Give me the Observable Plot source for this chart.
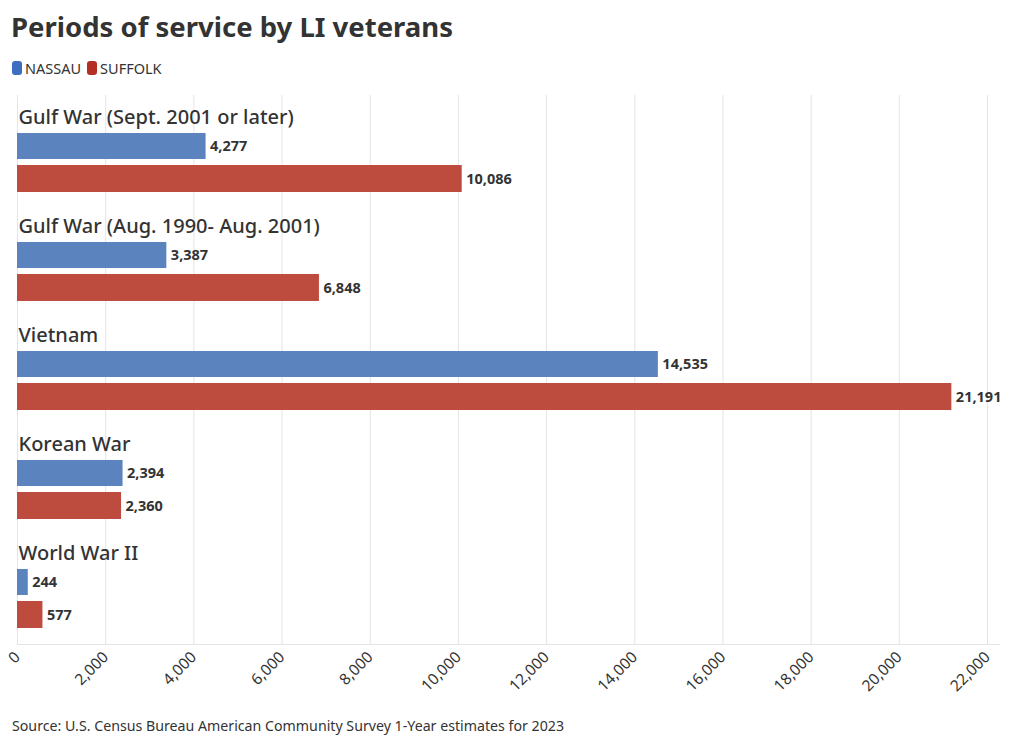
<!DOCTYPE html>
<html>
<head>
<meta charset="utf-8">
<script src="https://cdn.jsdelivr.net/npm/d3@7"></script>
<script src="https://cdn.jsdelivr.net/npm/@observablehq/plot@0.6"></script>
<style>
  html, body { margin: 0; padding: 0; background: #fff; }
  body { width: 1020px; height: 746px; position: relative; font-family: "Noto Sans", sans-serif; color: #333; overflow: hidden; }
  #title { position: absolute; left: 11px; top: 7px; font-size: 27.5px; font-weight: 700; line-height: 40px; color: #333; white-space: nowrap; }
  #legend { position: absolute; left: 12px; top: 59px; font-size: 14.5px; line-height: 18px; display: flex; align-items: center; color: #333; }
  .sw { display: inline-block; width: 10px; height: 14px; border-radius: 3px; margin-right: 3px; }
  .item { display: flex; align-items: center; margin-right: 6px; }
  #chart { position: absolute; left: 0; top: 80px; }
  #caption { position: absolute; left: 12px; top: 715px; font-size: 14.2px; line-height: 22px; color: #333; white-space: nowrap; }
</style>
</head>
<body>
<div id="title">Periods of service by LI veterans</div>
<div id="legend"></div>
<div id="chart"></div>
<div id="caption">Source: U.S. Census Bureau American Community Survey 1-Year estimates for 2023</div>
<script>
const categories = [
  "Gulf War (Sept. 2001 or later)",
  "Gulf War (Aug. 1990- Aug. 2001)",
  "Vietnam",
  "Korean War",
  "World War II"
];
const nassau = [4277, 3387, 14535, 2394, 244];
const suffolk = [10086, 6848, 21191, 2360, 577];
const counties = ["NASSAU", "SUFFOLK"];
const legendColors = ["#3d6dbf", "#b42f22"];
const barColors = ["#5b83bd", "#be4c3e"];
const xTicks = [0, 2000, 4000, 6000, 8000, 10000, 12000, 14000, 16000, 18000, 20000, 22000];

const nassauRows = categories.map((c, i) => ({category: c, value: nassau[i]}));
const suffolkRows = categories.map((c, i) => ({category: c, value: suffolk[i]}));

// legend
const legend = document.getElementById("legend");
counties.forEach((c, i) => {
  const it = document.createElement("span");
  it.className = "item";
  it.innerHTML = `<span class="sw" style="background:${legendColors[i]}"></span>${c}`;
  legend.appendChild(it);
});

const fmt = d3.format(",");
const font = "'Noto Sans', sans-serif";

const chart = Plot.plot({
  width: 1020,
  height: 625,
  marginTop: 15,
  marginBottom: 61,
  marginLeft: 17,
  marginRight: 21,
  style: {fontFamily: font, color: "#333", background: "#fff"},
  x: {domain: [0, 22272], axis: null},
  y: {type: "band", domain: categories, padding: 0, axis: null},
  marks: [
    Plot.gridX(xTicks, {stroke: "#e4e4e4", strokeOpacity: 1}),
    Plot.frame({anchor: "bottom", stroke: "#e4e4e4"}),
    Plot.axisX(xTicks, {
      tickRotate: -45, tickSize: 0, tickPadding: 10,
      tickFormat: fmt, fontSize: 15.5, fill: "#333", label: null
    }),
    Plot.barX(nassauRows, {x: "value", y: "category", fill: barColors[0], insetTop: 36, insetBottom: 47}),
    Plot.barX(suffolkRows, {x: "value", y: "category", fill: barColors[1], insetTop: 68, insetBottom: 14}),
    Plot.text(nassauRows, {x: "value", y: "category", text: d => fmt(d.value), textAnchor: "start", dx: 4, dy: -5.5, fontSize: 14.5, fontWeight: 700, fill: "#333"}),
    Plot.text(suffolkRows, {x: "value", y: "category", text: d => fmt(d.value), textAnchor: "start", dx: 4, dy: 27, fontSize: 14.5, fontWeight: 700, fill: "#333"}),
    Plot.text(categories, {x: 0, y: d => d, text: d => d, textAnchor: "start", dx: 1, dy: -34, fontSize: 20, fontWeight: 500, fill: "#333"})
  ]
});
document.getElementById("chart").appendChild(chart);
</script>
</body>
</html>
